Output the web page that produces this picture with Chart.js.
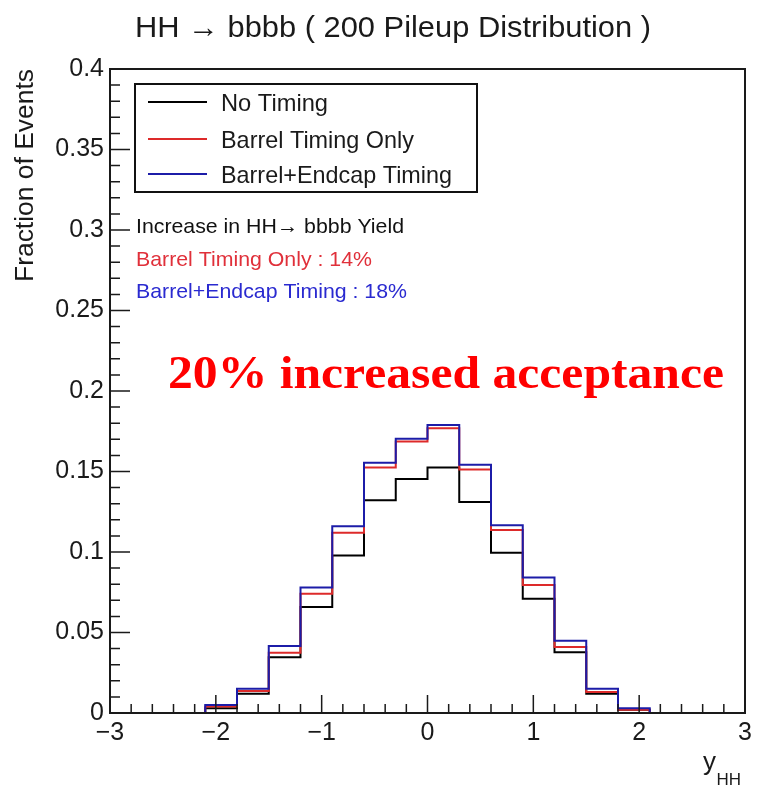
<!DOCTYPE html>
<html>
<head>
<meta charset="utf-8">
<script src="https://cdn.jsdelivr.net/npm/chart.js@4/dist/chart.umd.min.js"></script>
<style>
    html, body { margin: 0; background: #fff; }
    #wrap { width: 758px; height: 789px; }
</style>
</head>
<body>
<div id="wrap"><canvas id="chartRapidity"></canvas></div>
<script>
// y_HH histogram, bins of 0.3 from -2.1 to 2.1
const binEdges = [-2.1, -1.8, -1.5, -1.2, -0.9, -0.6, -0.3, 0, 0.3, 0.6, 0.9, 1.2, 1.5, 1.8, 2.1]
const noTiming = [0.003, 0.012, 0.0347, 0.0658, 0.0978, 0.1322, 0.1453, 0.1525, 0.131, 0.0996, 0.071, 0.0378, 0.012, 0.002]
const barrelTiming = [0.004, 0.0136, 0.0374, 0.0741, 0.1119, 0.1525, 0.1687, 0.1768, 0.1513, 0.1137, 0.0795, 0.041, 0.013, 0.002]
const barrelEndcapTiming = [0.005, 0.015, 0.0416, 0.0779, 0.116, 0.1554, 0.1703, 0.1789, 0.1542, 0.1166, 0.0841, 0.0449, 0.015, 0.003]

const seriesLabels = ["No Timing", "Barrel Timing Only", "Barrel+Endcap Timing"]
const seriesColors = ["#000000", "#dd2a2a", "#1c1ca8"]

const xTickLabels = ["\u22123", "\u22122", "\u22121", "0", "1", "2", "3"]
const xTickValues = [-3, -2, -1, 0, 1, 2, 3]
const yTickLabels = ["0", "0.05", "0.1", "0.15", "0.2", "0.25", "0.3", "0.35", "0.4"]
const yTickValues = [0, 0.05, 0.1, 0.15, 0.2, 0.25, 0.3, 0.35, 0.4]

const yieldLines = ["Increase in HH\u2192 bbbb Yield", "Barrel Timing Only : 14%", "Barrel+Endcap Timing : 18%"]
const yieldColors = ["#111111", "#e0303a", "#2a2ad0"]

// outline of a histogram as a stepped line, closed down to zero at both ends
function histPoints(values) {
    let pts = [{ x: binEdges[0], y: 0 }]
    values.forEach((v, i) => pts.push({ x: binEdges[i], y: v }))
    pts.push({ x: binEdges[binEdges.length - 1], y: values[values.length - 1] })
    pts.push({ x: binEdges[binEdges.length - 1], y: 0 })
    return pts
}

// text squeezed (or stretched) to a given width
function fitText(ctx, text, x, y, width, font, color, align) {
    ctx.save()
    ctx.font = font
    ctx.fillStyle = color
    ctx.textAlign = "left"
    ctx.textBaseline = "alphabetic"
    let w = ctx.measureText(text).width
    let sx = width / w
    let left = align === "center" ? x - width / 2 : (align === "right" ? x - width : x)
    ctx.translate(left, y)
    ctx.scale(sx, 1)
    ctx.fillText(text, 0, 0)
    ctx.restore()
}

const rootStyle = {
    id: "rootStyle",
    afterDatasetsDraw(chart) {
        const ctx = chart.ctx
        const area = chart.chartArea
        const xs = chart.scales.x
        const ys = chart.scales.y

        // frame
        ctx.save()
        ctx.strokeStyle = "#1a1a1a"
        ctx.lineWidth = 2
        ctx.strokeRect(area.left, area.top, area.right - area.left, area.bottom - area.top)

        // ticks pointing into the plot
        ctx.lineWidth = 1.5
        ctx.beginPath()
        for (let i = 0; i <= 40; i++) {
            let py = ys.getPixelForValue(i / 100)
            let len = i % 5 === 0 ? 20 : 10
            ctx.moveTo(area.left, py)
            ctx.lineTo(area.left + len, py)
        }
        for (let i = -15; i <= 15; i++) {
            let px = xs.getPixelForValue(i / 5)
            let len = i % 5 === 0 ? 18 : 9
            ctx.moveTo(px, area.bottom)
            ctx.lineTo(px, area.bottom - len)
        }
        ctx.stroke()

        // tick labels
        ctx.fillStyle = "#1a1a1a"
        ctx.font = "25px 'Liberation Sans', Arial, sans-serif"
        ctx.textAlign = "right"
        ctx.textBaseline = "middle"
        yTickValues.forEach((v, i) => ctx.fillText(yTickLabels[i], area.left - 6, ys.getPixelForValue(v)))
        ctx.textAlign = "center"
        ctx.textBaseline = "top"
        xTickValues.forEach((v, i) => ctx.fillText(xTickLabels[i], xs.getPixelForValue(v), area.bottom + 8))

        // axis titles
        ctx.textAlign = "right"
        ctx.textBaseline = "alphabetic"
        ctx.font = "26px 'Liberation Sans', Arial, sans-serif"
        ctx.fillText("y", 716, 770)
        ctx.font = "17px 'Liberation Sans', Arial, sans-serif"
        ctx.fillText("HH", 741, 785)
        ctx.restore()

        ctx.save()
        ctx.translate(33, area.top)
        ctx.rotate(-Math.PI / 2)
        fitText(ctx, "Fraction of Events", 0, 0, 213, "26px 'Liberation Sans', Arial, sans-serif", "#1a1a1a", "right")
        ctx.restore()

        // title
        fitText(ctx, "HH \u2192 bbbb ( 200 Pileup Distribution )", 393, 37, 516,
            "30px 'Liberation Sans', Arial, sans-serif", "#1a1a1a", "center")

        // legend box
        ctx.save()
        ctx.fillStyle = "#fff"
        ctx.fillRect(135, 84, 342, 108)
        ctx.strokeStyle = "#111"
        ctx.lineWidth = 2
        ctx.strokeRect(135, 84, 342, 108)
        const rows = [102, 139, 174]
        const widths = [107, 193, 231]
        seriesLabels.forEach((label, i) => {
            ctx.strokeStyle = seriesColors[i]
            ctx.lineWidth = 2
            ctx.beginPath()
            ctx.moveTo(148, rows[i])
            ctx.lineTo(207, rows[i])
            ctx.stroke()
            fitText(ctx, label, 221, rows[i] + 9, widths[i], "24px 'Liberation Sans', Arial, sans-serif", "#1a1a1a", "left")
        })
        ctx.restore()

        // yield summary
        const yieldRows = [233, 266, 298]
        const yieldWidths = [268, 236, 271]
        yieldLines.forEach((t, i) => fitText(ctx, t, 136, yieldRows[i], yieldWidths[i],
            "21px 'Liberation Sans', Arial, sans-serif", yieldColors[i], "left"))

        fitText(ctx, "20% increased acceptance", 168, 388, 556,
            "bold 46px 'Liberation Serif', 'DejaVu Serif', serif", "#ff0000", "left")
    }
}

new Chart(
    document.getElementById("chartRapidity").getContext("2d"),
    {
        type: "line",
        data: {
            datasets: [
                { label: seriesLabels[0], data: histPoints(noTiming), borderColor: seriesColors[0], order: 2 },
                { label: seriesLabels[1], data: histPoints(barrelTiming), borderColor: seriesColors[1], order: 1 },
                { label: seriesLabels[2], data: histPoints(barrelEndcapTiming), borderColor: seriesColors[2], order: 0 }
            ].map(ds => Object.assign(ds, {
                // each value is held from its own edge to the next one
                stepped: "before",
                borderWidth: 2,
                pointRadius: 0,
                fill: false
            }))
        },
        options: {
            responsive: true,
            maintainAspectRatio: false,
            animation: false,
            layout: { padding: { top: 69, right: 13, left: 0, bottom: 0 } },
            scales: {
                x: {
                    type: "linear",
                    min: -3,
                    max: 3,
                    grid: { display: false },
                    border: { display: false },
                    ticks: { display: false },
                    afterFit: s => { s.height = 76 }
                },
                y: {
                    type: "linear",
                    min: 0,
                    max: 0.4,
                    grid: { display: false },
                    border: { display: false },
                    ticks: { display: false },
                    afterFit: s => { s.width = 110 }
                }
            },
            plugins: {
                legend: { display: false },
                tooltip: { enabled: false }
            }
        },
        plugins: [rootStyle]
    }
)
</script>
</body>
</html>
